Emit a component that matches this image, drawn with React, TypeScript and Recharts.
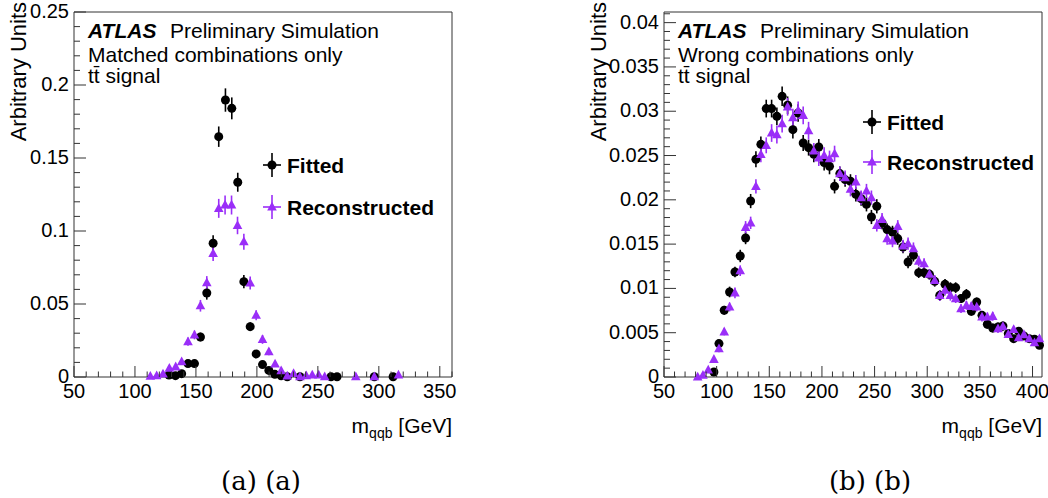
import React from 'react';
import { ScatterChart, Scatter, XAxis, YAxis, ErrorBar } from 'recharts';

// points are [m_qqb (GeV), arbitrary units, stat. error]
const matchedFitted = [
  [127.9, 0.0014, 0.0008], [133.2, 0.0009, 0.0008], [138.3, 0.0023, 0.001], [143.5, 0.0092, 0.0015],
  [148.8, 0.0092, 0.0015], [153.7, 0.0274, 0.003], [158.9, 0.0575, 0.0045], [164.1, 0.0916, 0.0055],
  [168.7, 0.1646, 0.007], [174.2, 0.1897, 0.008], [179.4, 0.184, 0.0075], [184.3, 0.1334, 0.0065],
  [189.3, 0.0653, 0.0045], [194.5, 0.0345, 0.003], [199.4, 0.0158, 0.002], [204.6, 0.0085, 0.0015],
  [209.8, 0.0045, 0.001], [214.7, 0.0018, 0.0008], [219.9, 0.0008, 0.0006], [224.9, 0.0002, 0.0002],
  [235.3, 0.0002, 0.0002], [260.8, 0.0002, 0.0002], [265.7, 0.0002, 0.0002], [296.3, 0.0002, 0.0002],
  [311.7, 0.0002, 0.0002],
];
const matchedReco = [
  [112.6, 0.0005, 0.0004], [117.8, 0.0009, 0.0006], [123.0, 0.0021, 0.0008], [128.2, 0.006, 0.0012],
  [133.4, 0.007, 0.0013], [138.3, 0.0105, 0.0017], [143.5, 0.0242, 0.0028], [148.8, 0.0288, 0.003],
  [153.7, 0.0488, 0.004], [158.9, 0.0646, 0.0045], [164.1, 0.0847, 0.0052], [168.7, 0.1155, 0.0065],
  [173.9, 0.1178, 0.0065], [179.2, 0.1178, 0.0065], [184.1, 0.1038, 0.006], [189.3, 0.0927, 0.0055],
  [194.5, 0.0644, 0.0045], [199.4, 0.0423, 0.0035], [204.6, 0.0257, 0.003], [209.8, 0.0173, 0.0024],
  [214.9, 0.0089, 0.0017], [219.9, 0.0043, 0.0012], [224.9, 0.0007, 0.0006], [230.1, 0.0025, 0.001],
  [235.3, 0.0002, 0.0002], [240.5, 0.0009, 0.0006], [245.4, 0.0014, 0.0008], [250.7, 0.0014, 0.0008],
  [255.6, 0.0002, 0.0002], [281.1, 0.0002, 0.0002], [296.3, 0.0002, 0.0002], [316.1, 0.0014, 0.0008],
];

const wrongFitted = [
  [97.4, 0.00056, 0.0002], [102.2, 0.00377, 0.0004], [107.2, 0.00753, 0.0005], [112.3, 0.0096, 0.0006],
  [117.4, 0.01185, 0.0006], [122.4, 0.01366, 0.0007], [127.5, 0.01569, 0.0007], [132.3, 0.01986, 0.0008],
  [137.3, 0.02457, 0.0009], [142.0, 0.02626, 0.0009], [147.1, 0.0303, 0.001], [152.2, 0.0303, 0.001],
  [157.2, 0.02942, 0.001], [162.2, 0.03168, 0.0011], [167.4, 0.03067, 0.001], [172.4, 0.02792, 0.001],
  [177.4, 0.0298, 0.001], [182.2, 0.02641, 0.0009], [187.3, 0.02589, 0.0009], [192.3, 0.02513, 0.0009],
  [197.0, 0.02596, 0.0009], [202.1, 0.0242, 0.0009], [207.2, 0.02378, 0.0009], [212.0, 0.02152, 0.0008],
  [217.0, 0.02296, 0.0008], [222.0, 0.02228, 0.0008], [227.1, 0.02209, 0.0008], [232.2, 0.02062, 0.0008],
  [237.2, 0.02013, 0.0008], [242.3, 0.01949, 0.0008], [247.0, 0.01806, 0.0008], [252.1, 0.01927, 0.0008],
  [257.1, 0.01738, 0.0007], [261.9, 0.01664, 0.0007], [267.0, 0.01637, 0.0007], [272.0, 0.01562, 0.0007],
  [277.0, 0.01467, 0.0007], [281.8, 0.01298, 0.0007], [286.9, 0.01374, 0.0007], [291.9, 0.01178, 0.0006],
  [297.0, 0.01178, 0.0006], [302.1, 0.01159, 0.0006], [307.1, 0.0108, 0.0006], [311.9, 0.00922, 0.0006],
  [316.9, 0.01046, 0.0006], [322.0, 0.01009, 0.0006], [327.0, 0.01009, 0.0006], [332.1, 0.00885, 0.0005],
  [337.2, 0.00933, 0.0006], [341.9, 0.00742, 0.0005], [347.0, 0.00847, 0.0005], [352.0, 0.00696, 0.0005],
  [357.1, 0.00595, 0.0005], [362.2, 0.00553, 0.0005], [367.2, 0.00564, 0.0005], [371.9, 0.00576, 0.0005],
  [377.0, 0.0049, 0.0004], [382.1, 0.00433, 0.0004], [386.8, 0.00516, 0.0004], [391.8, 0.00463, 0.0004],
  [396.9, 0.00433, 0.0004], [401.9, 0.00426, 0.0004], [406.6, 0.00358, 0.0004],
];
const wrongReco = [
  [82.0, 0.0, 0.0], [87.0, 0.0002, 0.0002], [92.0, 0.0008, 0.0003], [97.4, 0.002, 0.0003],
  [102.2, 0.0032, 0.0004], [107.2, 0.0051, 0.0004], [112.3, 0.0079, 0.0005], [117.4, 0.0095, 0.0006],
  [122.4, 0.012, 0.0006], [127.5, 0.0169, 0.0007], [132.3, 0.0174, 0.0007], [137.3, 0.02152, 0.0008],
  [142.0, 0.02513, 0.0009], [147.1, 0.02615, 0.0009], [152.2, 0.02754, 0.001], [157.2, 0.02736, 0.001],
  [162.2, 0.0286, 0.001], [167.4, 0.0305, 0.001], [172.4, 0.02928, 0.001], [177.4, 0.0301, 0.001],
  [182.2, 0.02954, 0.001], [187.3, 0.0278, 0.001], [192.3, 0.02551, 0.0009], [197.0, 0.02472, 0.0009],
  [202.1, 0.02502, 0.0009], [207.2, 0.02465, 0.0009], [212.0, 0.02521, 0.0009], [217.0, 0.02296, 0.0008],
  [222.0, 0.0225, 0.0008], [227.1, 0.02119, 0.0008], [232.2, 0.02201, 0.0008], [237.2, 0.02025, 0.0008],
  [242.3, 0.021, 0.0008], [247.0, 0.02025, 0.0008], [252.1, 0.01712, 0.0007], [257.1, 0.0178, 0.0007],
  [261.9, 0.01562, 0.0007], [267.0, 0.01535, 0.0007], [272.0, 0.01701, 0.0007], [277.0, 0.01479, 0.0007],
  [281.8, 0.01506, 0.0007], [286.9, 0.01449, 0.0007], [291.9, 0.01309, 0.0006], [297.0, 0.0128, 0.0006],
  [302.1, 0.0116, 0.0006], [307.1, 0.01091, 0.0006], [311.9, 0.0092, 0.0006], [316.9, 0.00979, 0.0006],
  [322.0, 0.00922, 0.0006], [327.0, 0.00885, 0.0005], [332.1, 0.00772, 0.0005], [337.2, 0.00809, 0.0005],
  [341.9, 0.00798, 0.0005], [347.0, 0.0079, 0.0005], [352.0, 0.00677, 0.0005], [357.1, 0.00677, 0.0005],
  [362.2, 0.00685, 0.0005], [367.2, 0.00546, 0.0005], [371.9, 0.00572, 0.0005], [377.0, 0.00482, 0.0004],
  [382.1, 0.00538, 0.0004], [386.8, 0.00445, 0.0004], [391.8, 0.00479, 0.0004], [396.9, 0.00433, 0.0004],
  [401.9, 0.00388, 0.0004], [406.6, 0.00433, 0.0004],
];

const matchedXTicks = [50, 100, 150, 200, 250, 300, 350];
const matchedYTicks = [0, 0.05, 0.1, 0.15, 0.2, 0.25];
const wrongXTicks = [50, 100, 150, 200, 250, 300, 350, 400];
const wrongYTicks = [0, 0.005, 0.01, 0.015, 0.02, 0.025, 0.03, 0.035, 0.04];

const PURPLE = '#9a2ef8';
const FONT = '"Liberation Sans", Arial, Helvetica, sans-serif';
const FRAME = '#333';

const rows = (pts: number[][]) => pts.map(([m, v, e]) => ({ m, v, e }));

// minor tick positions between domain ends
const minorTicks = (from: number, to: number, step: number) => {
  const out: number[] = [];
  for (let i = 0; from + i * step <= to + 1e-9; i++) out.push(+(from + i * step).toFixed(6));
  return out;
};

const isMajor = (v: number, majors: number[]) => majors.some((t) => Math.abs(t - v) < 1e-9);

const makeTick =
  (side: 'bottom' | 'top' | 'left' | 'right', majors: number[], big: number, small: number, labels: boolean) =>
  (props: any) => {
    const { x, y, payload } = props;
    const major = isMajor(payload.value, majors);
    const len = major ? big : small;
    let line;
    if (side === 'bottom') line = <line x1={x} y1={y} x2={x} y2={y - len} />;
    else if (side === 'top') line = <line x1={x} y1={y} x2={x} y2={y + len} />;
    else if (side === 'left') line = <line x1={x} y1={y} x2={x + len} y2={y} />;
    else line = <line x1={x} y1={y} x2={x - len} y2={y} />;
    return (
      <g stroke={FRAME} strokeWidth={1}>
        {line}
        {labels && major && side === 'bottom' && (
          <text x={x} y={y + 21} textAnchor="middle" stroke="none" fill="#000" fontSize={20} fontFamily={FONT}>
            {String(payload.value)}
          </text>
        )}
        {labels && major && side === 'left' && (
          <text x={x - 5} y={y + 6} textAnchor="end" stroke="none" fill="#000" fontSize={20} fontFamily={FONT}>
            {String(payload.value)}
          </text>
        )}
      </g>
    );
  };

const Dot = (p: any) => <circle cx={p.cx} cy={p.cy} r={4.5} fill="#000" />;
const Tri = (p: any) => (
  <path d={`M${p.cx},${p.cy - 5.2} L${p.cx + 4.8},${p.cy + 3.6} L${p.cx - 4.8},${p.cy + 3.6} Z`} fill={PURPLE} />
);

// the axes are 1px wide/high (recharts skips 0-size axes), so margins are 1px less than the frame offsets
function Panel(props: {
  left: number;
  width: number;
  marginLeft: number;
  marginRight: number;
  xDomain: [number, number];
  yDomain: [number, number];
  xMajors: number[];
  yMajors: number[];
  yMinorStep: number;
  fitted: number[][];
  reco: number[][];
}) {
  const { xDomain, yDomain, xMajors, yMajors } = props;
  const xAll = minorTicks(xDomain[0], xDomain[1], 10);
  const yAll = minorTicks(yDomain[0], yDomain[1], props.yMinorStep);
  const common = { type: 'number' as const, tickSize: 0, tickMargin: 0, tickLine: false, interval: 0 as const };
  return (
    <div style={{ position: 'absolute', left: props.left, top: 0 }}>
      <ScatterChart
        width={props.width}
        height={440}
        margin={{ top: 11, right: props.marginRight - 1, bottom: 62, left: props.marginLeft - 1 }}
      >
        <XAxis
          {...common}
          xAxisId="b"
          dataKey="m"
          orientation="bottom"
          height={1}
          domain={xDomain}
          ticks={xAll}
          axisLine={{ stroke: FRAME }}
          tick={makeTick('bottom', xMajors, 11, 5.5, true)}
        />
        <XAxis
          {...common}
          xAxisId="t"
          orientation="top"
          height={1}
          domain={xDomain}
          ticks={xAll}
          axisLine={{ stroke: FRAME }}
          tick={makeTick('top', xMajors, 11, 5.5, false)}
        />
        <YAxis
          {...common}
          yAxisId="l"
          dataKey="v"
          orientation="left"
          width={1}
          domain={yDomain}
          ticks={yAll}
          axisLine={{ stroke: FRAME }}
          tick={makeTick('left', yMajors, 12, 6, true)}
        />
        <YAxis
          {...common}
          yAxisId="r"
          orientation="right"
          width={1}
          domain={yDomain}
          ticks={yAll}
          axisLine={{ stroke: FRAME }}
          tick={makeTick('right', yMajors, 12, 6, false)}
        />
        <Scatter xAxisId="b" yAxisId="l" data={rows(props.fitted)} shape={Dot} fill="#000" isAnimationActive={false}>
          <ErrorBar dataKey="e" direction="y" width={0} stroke="#000" strokeWidth={1.6} isAnimationActive={false} />
        </Scatter>
        <Scatter xAxisId="b" yAxisId="l" data={rows(props.reco)} shape={Tri} fill={PURPLE} isAnimationActive={false}>
          <ErrorBar dataKey="e" direction="y" width={0} stroke={PURPLE} strokeWidth={1.6} isAnimationActive={false} />
        </Scatter>
      </ScatterChart>
    </div>
  );
}

function LegendMark({ x, y, color, tri }: { x: number; y: number; color: string; tri?: boolean }) {
  return (
    <g stroke={color} strokeWidth={1.6}>
      <line x1={x} y1={y - 12} x2={x} y2={y + 12} />
      <line x1={x - 9} y1={y} x2={x + 9} y2={y} />
      {tri ? (
        <path d={`M${x},${y - 5.2} L${x + 4.8},${y + 3.6} L${x - 4.8},${y + 3.6} Z`} fill={color} stroke="none" />
      ) : (
        <circle cx={x} cy={y} r={4.5} fill={color} stroke="none" />
      )}
    </g>
  );
}

function Labels({ plotLeft, plotRight, titleX, line2, legendX, legendY1, legendY2 }: any) {
  const tx = plotLeft + 14;
  return (
    <g fontFamily={FONT} fill="#000">
      <text x={tx} y={38} fontSize={21} fontWeight="bold" fontStyle="italic">ATLAS</text>
      <text x={tx + 82} y={38} fontSize={21}>Preliminary Simulation</text>
      <text x={tx} y={62} fontSize={21}>{line2}</text>
      <text x={tx} y={83} fontSize={21}>tt̄ signal</text>
      <LegendMark x={legendX} y={legendY1} color="#000" />
      <text x={legendX + 15} y={legendY1 + 8} fontSize={21} fontWeight="bold">Fitted</text>
      <LegendMark x={legendX} y={legendY2} color={PURPLE} tri />
      <text x={legendX + 15} y={legendY2 + 8} fontSize={21} fontWeight="bold">Reconstructed</text>
      <text transform={`translate(${titleX}, 2) rotate(-90)`} textAnchor="end" fontSize={22}>
        Arbitrary Units
      </text>
      <text x={plotRight} y={433} textAnchor="end" fontSize={21}>
        <tspan>m</tspan>
        <tspan fontSize={14} dy={5}>qqb</tspan>
        <tspan dy={-5}> [GeV]</tspan>
      </text>
    </g>
  );
}

export default function App() {
  return (
    <div style={{ position: 'absolute', left: 0, top: 0, width: 1048, height: 498, background: '#fff' }}>
      <Panel
        left={0}
        width={480}
        marginLeft={74}
        marginRight={28}
        xDomain={[50, 360]}
        yDomain={[0, 0.25]}
        xMajors={matchedXTicks}
        yMajors={matchedYTicks}
        yMinorStep={0.01}
        fitted={matchedFitted}
        reco={matchedReco}
      />
      <Panel
        left={520}
        width={528}
        marginLeft={144}
        marginRight={6}
        xDomain={[50, 409]}
        yDomain={[0, 0.0412]}
        xMajors={wrongXTicks}
        yMajors={wrongYTicks}
        yMinorStep={0.001}
        fitted={wrongFitted}
        reco={wrongReco}
      />
      <svg width={1048} height={498} style={{ position: 'absolute', left: 0, top: 0, pointerEvents: 'none' }}>
        <Labels plotLeft={74} plotRight={452} titleX={26} line2="Matched combinations only" legendX={272} legendY1={165} legendY2={207} />
        <Labels plotLeft={664} plotRight={1042} titleX={606} line2="Wrong combinations only" legendX={872} legendY1={122} legendY2={162} />
        <text x={261} y={490} textAnchor="middle" fontFamily='"DejaVu Serif", serif' fontSize={26}>(a) (a)</text>
        <text x={870} y={490} textAnchor="middle" fontFamily='"DejaVu Serif", serif' fontSize={26}>(b) (b)</text>
      </svg>
    </div>
  );
}
